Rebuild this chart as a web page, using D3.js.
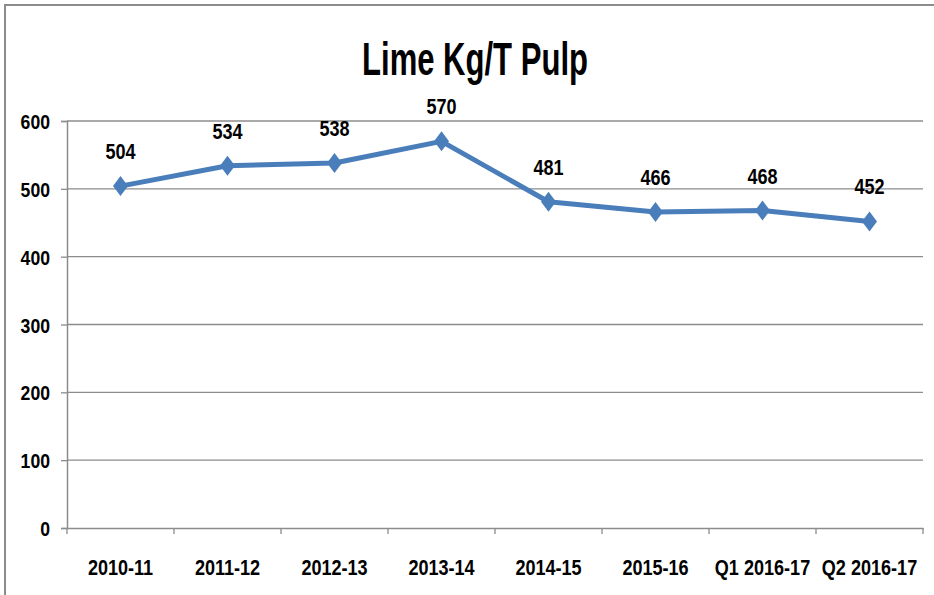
<!DOCTYPE html>
<html><head><meta charset="utf-8">
<script src="https://cdn.jsdelivr.net/npm/d3@7"></script>
<style>
html,body{margin:0;padding:0;background:#fff;}
text{font-family:"Liberation Sans",Arial,sans-serif;font-weight:bold;fill:#000;}
</style></head>
<body>
<svg id="c" width="934" height="595"></svg>
<script>
const categories = ["2010-11","2011-12","2012-13","2013-14","2014-15","2015-16","Q1 2016-17","Q2 2016-17"];
const values = [504, 534, 538, 570, 481, 466, 468, 452];
const yTicks = [0, 100, 200, 300, 400, 500, 600];
const title = "Lime Kg/T Pulp";

const svg = d3.select("#c");
const W = 934, H = 595;
const m = {left: 67, right: 11, top: 121, bottom: 67};
const SX = 0.84;

function label(g, x, y, txt, size, anchor, sx) {
  return g.append("text")
    .attr("transform", `translate(${x},${y}) scale(${sx},1)`)
    .attr("text-anchor", anchor)
    .style("font-size", size + "px")
    .text(txt);
}

// outer border (only top/left visible)
svg.append("rect").attr("x", 5).attr("y", 5).attr("width", W + 10).attr("height", H + 10)
  .attr("fill", "none").attr("stroke", "#8c8c8c").attr("stroke-width", 2);

const x = d3.scaleBand().domain(categories).range([m.left, W - m.right]);
const y = d3.scaleLinear().domain([0, 600]).range([H - m.bottom, m.top]);

// gridlines
svg.append("g").selectAll("line").data(yTicks.filter(d => d > 0)).join("line")
  .attr("x1", m.left).attr("x2", W - m.right)
  .attr("y1", d => y(d)).attr("y2", d => y(d))
  .attr("stroke", "#8c8c8c").attr("stroke-width", 1.3);

// y axis
const yAxis = svg.append("g").attr("transform", `translate(${m.left},0)`)
  .call(d3.axisLeft(y).tickValues(yTicks).tickSize(6).tickFormat(""));
yAxis.select(".domain").attr("stroke", "#8c8c8c").attr("stroke-width", 1.5);
yAxis.selectAll(".tick line").attr("stroke", "#8c8c8c").attr("stroke-width", 1.3);
const yl = svg.append("g");
yTicks.forEach(t => label(yl, 50, y(t) + 8, t, 21, "end", SX));

// x axis
const xAxis = svg.append("g").attr("transform", `translate(0,${H - m.bottom})`)
  .call(d3.axisBottom(x).tickSize(0).tickFormat(""));
xAxis.select(".domain").attr("stroke", "#8c8c8c").attr("stroke-width", 1.5);
const bounds = categories.map(c => x(c)).concat([W - m.right]);
svg.append("g").selectAll("line").data(bounds).join("line")
  .attr("x1", d => d).attr("x2", d => d)
  .attr("y1", H - m.bottom).attr("y2", H - m.bottom + 6)
  .attr("stroke", "#8c8c8c").attr("stroke-width", 1.3);

const cx = c => x(c) + x.bandwidth() / 2;
const xl = svg.append("g");
categories.forEach(c => label(xl, cx(c), 575, c, 21.5, "middle", SX));

// line
svg.append("path").datum(values)
  .attr("d", d3.line().x((d, i) => cx(categories[i])).y(d => y(d)))
  .attr("fill", "none").attr("stroke", "#4a7ebb").attr("stroke-width", 5)
  .attr("stroke-linejoin", "round");

// markers
svg.append("g").selectAll("path").data(values).join("path")
  .attr("transform", (d, i) => `translate(${cx(categories[i])},${y(d)})`)
  .attr("d", "M0,-10L7.5,0L0,10L-7.5,0Z")
  .attr("fill", "#4a7ebb");

// labels
const dl = svg.append("g");
values.forEach((v, i) => label(dl, cx(categories[i]), y(v) - 27, v, 21.5, "middle", SX));

// title
label(svg, 475, 75, title, 46, "middle", 0.675);
</script>
</body></html>
